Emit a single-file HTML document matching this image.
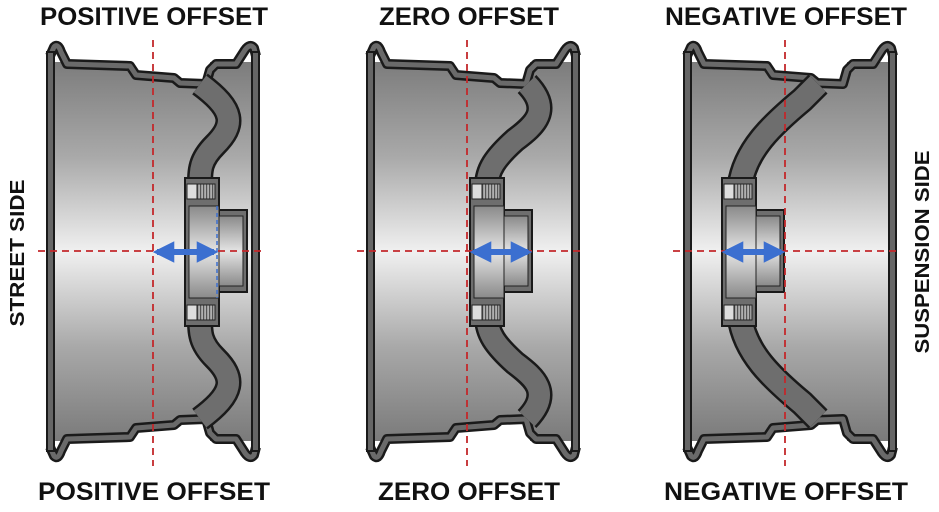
<!DOCTYPE html>
<html><head><meta charset="utf-8"><style>
html,body{margin:0;padding:0;background:#fff;width:939px;height:512px;overflow:hidden}
svg{display:block}
text{font-family:"Liberation Sans",sans-serif;font-weight:bold;fill:#111}
</style></head><body>
<svg width="939" height="512" viewBox="0 0 939 512" xmlns="http://www.w3.org/2000/svg">
<defs>
<linearGradient id="body" x1="0" y1="0" x2="0" y2="1">
<stop offset="0" stop-color="#7c7c7c"/><stop offset="0.25" stop-color="#a9a9a9"/>
<stop offset="0.5" stop-color="#f0f0f0"/><stop offset="0.75" stop-color="#a9a9a9"/>
<stop offset="1" stop-color="#7a7a7a"/></linearGradient>
<linearGradient id="bore" x1="0" y1="0" x2="0" y2="1">
<stop offset="0" stop-color="#8a8a8a"/><stop offset="0.5" stop-color="#e4e4e4"/><stop offset="1" stop-color="#8a8a8a"/></linearGradient>
<pattern id="thr" width="3" height="16" patternUnits="userSpaceOnUse"><rect width="3" height="16" fill="#b0b0b0"/><rect width="1.2" height="16" fill="#555"/></pattern>
<marker id="ah" viewBox="0 0 10 10" refX="8" refY="5" markerWidth="3.6" markerHeight="3.6" orient="auto-start-reverse"><path d="M0,0 L10,5 L0,10 Z" fill="#3b6fd0"/></marker>
<g id="rimhalf">
<path d="M84,58 L90,75 L128,78 L134,83 L160,84 L164,70 L164,58 Z" fill="#fff"/>
<path d="M4,56 L8,47 Q12,43 15,52 L21,64 L84,66 L90,75 L128,78 L134,83 L160,84 L164,70 L170,64 L190,64 L199,50 Q204,43 208,48 L210,56" fill="none" stroke="#1a1a1a" stroke-width="10" stroke-linejoin="round"/>
<path d="M4,56 L8,47 Q12,43 15,52 L21,64 L84,66 L90,75 L128,78 L134,83 L160,84 L164,70 L170,64 L190,64 L199,50 Q204,43 208,48 L210,56" fill="none" stroke="#6a6a6a" stroke-width="5" stroke-linejoin="round"/>
</g>
<g id="rim">
<rect x="4" y="62" width="206" height="379" fill="url(#body)"/>
<use href="#rimhalf"/>
<use href="#rimhalf" transform="translate(0,503) scale(1,-1)"/>
<rect x="1" y="52" width="7" height="399" fill="#666" stroke="#1a1a1a" stroke-width="2"/>
<rect x="206" y="52" width="7" height="399" fill="#666" stroke="#1a1a1a" stroke-width="2"/>
</g>
<g id="hub">
<rect x="0" y="178" width="34" height="148" fill="#6e6e6e" stroke="#1a1a1a" stroke-width="2"/>
<rect x="34" y="210" width="28" height="82" fill="#6e6e6e" stroke="#1a1a1a" stroke-width="2"/>
<rect x="4" y="206" width="30" height="92" fill="url(#bore)" stroke="#222" stroke-width="1"/>
<rect x="34" y="216" width="24" height="70" fill="url(#bore)" stroke="#222" stroke-width="1"/>
<rect x="2" y="184" width="10" height="15" fill="#ddd" stroke="#222" stroke-width="1"/>
<rect x="12" y="184" width="18" height="15" fill="url(#thr)" stroke="#222" stroke-width="1"/>
<rect x="2" y="305" width="10" height="15" fill="#ddd" stroke="#222" stroke-width="1"/>
<rect x="12" y="305" width="18" height="15" fill="url(#thr)" stroke="#222" stroke-width="1"/>
</g>
</defs>

<use href="#rim" transform="translate(46,0)"/>
<g id="sp1"><path d="M200,84 C235,110 235,125 215,145 C200,160 200,170 200,186" fill="none" stroke="#1a1a1a" stroke-width="26"/>
<path d="M200,84 C235,110 235,125 215,145 C200,160 200,170 200,186" fill="none" stroke="#6e6e6e" stroke-width="21"/></g>
<use href="#sp1" transform="translate(0,503) scale(1,-1)"/>
<use href="#hub" transform="translate(185,0)"/>

<use href="#rim" transform="translate(366,0)"/>
<g id="sp2"><path d="M527,84 C552,110 535,125 515,140 C495,158 487,170 487,186" fill="none" stroke="#1a1a1a" stroke-width="26"/>
<path d="M527,84 C552,110 535,125 515,140 C495,158 487,170 487,186" fill="none" stroke="#6e6e6e" stroke-width="21"/></g>
<use href="#sp2" transform="translate(0,503) scale(1,-1)"/>
<use href="#hub" transform="translate(470,0)"/>

<use href="#rim" transform="translate(683,0)"/>
<g id="sp3"><path d="M818,84 L802,100 C772,125 745,150 740,186" fill="none" stroke="#1a1a1a" stroke-width="27"/>
<path d="M818,84 L802,100 C772,125 745,150 740,186" fill="none" stroke="#6e6e6e" stroke-width="22"/></g>
<use href="#sp3" transform="translate(0,503) scale(1,-1)"/>
<use href="#hub" transform="translate(722,0)"/>

<g stroke="#c3282b" stroke-width="1.8" stroke-dasharray="7 5" fill="none">
<line x1="153" y1="40" x2="153" y2="466"/><line x1="38" y1="251" x2="263" y2="251"/>
<line x1="467" y1="40" x2="467" y2="466"/><line x1="357" y1="251" x2="582" y2="251"/>
<line x1="785" y1="40" x2="785" y2="466"/><line x1="673" y1="251" x2="896" y2="251"/>
</g>
<line x1="217" y1="206" x2="217" y2="298" stroke="#3b6fd0" stroke-width="1.5" stroke-dasharray="4 3"/>
<g stroke="#3b6fd0" stroke-width="6" marker-start="url(#ah)" marker-end="url(#ah)">
<line x1="157" y1="252" x2="214" y2="252"/>
<line x1="474" y1="252" x2="528" y2="252"/>
<line x1="726" y1="252" x2="781" y2="252"/>
</g>

<g font-size="25">
<text x="154" y="25" text-anchor="middle" textLength="228" lengthAdjust="spacingAndGlyphs">POSITIVE OFFSET</text>
<text x="469" y="25" text-anchor="middle" textLength="180" lengthAdjust="spacingAndGlyphs">ZERO OFFSET</text>
<text x="786" y="25" text-anchor="middle" textLength="242" lengthAdjust="spacingAndGlyphs">NEGATIVE OFFSET</text>
<text x="154" y="500" text-anchor="middle" textLength="232" lengthAdjust="spacingAndGlyphs">POSITIVE OFFSET</text>
<text x="469" y="500" text-anchor="middle" textLength="182" lengthAdjust="spacingAndGlyphs">ZERO OFFSET</text>
<text x="786" y="500" text-anchor="middle" textLength="244" lengthAdjust="spacingAndGlyphs">NEGATIVE OFFSET</text>
</g>
<text font-size="20" transform="translate(24,253) rotate(-90)" text-anchor="middle" textLength="147" lengthAdjust="spacingAndGlyphs">STREET SIDE</text>
<text font-size="20" transform="translate(929,252) rotate(-90)" text-anchor="middle" textLength="203" lengthAdjust="spacingAndGlyphs">SUSPENSION SIDE</text>
</svg>
</body></html>
